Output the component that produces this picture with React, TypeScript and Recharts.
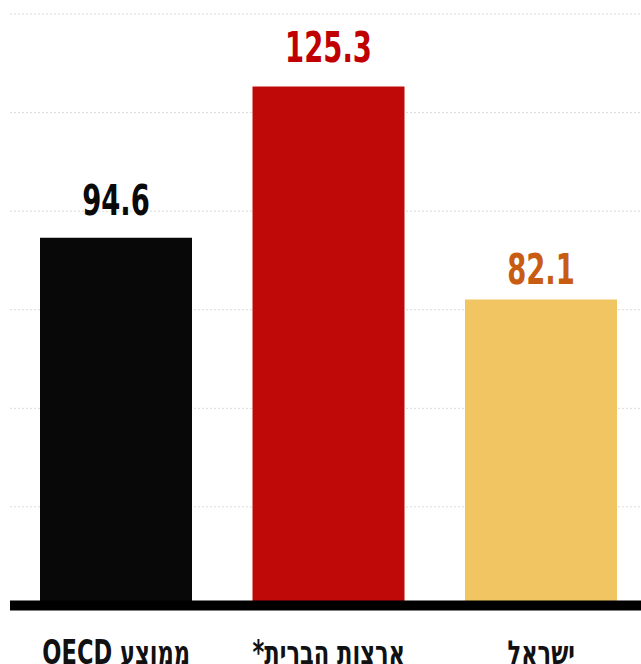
import React from "react";
import { BarChart, Bar, XAxis, YAxis, CartesianGrid, Cell, LabelList } from "recharts";

const categories = ["ממוצע OECD", "ארצות הברית*", "ישראל"];
const values = [94.6, 125.3, 82.1];
const yTicks = [20, 40, 60, 80, 100, 120, 140];

const barColors = ["#080808", "#bf0808", "#f2c563"];
const labelColors = ["#0a0a0a", "#c00000", "#c85c12"];
const labelGaps = [23, 24, 15];

const data = categories.map((name, i) => ({ name, value: values[i] }));

const FONT = "'DejaVu Sans Condensed', 'DejaVu Sans', sans-serif";

const ValueLabel = (props: any) => {
  const { x, y, width, value, index } = props;
  const cx = x + width / 2;
  const by = y - labelGaps[index];
  return (
    <text
      x={0}
      y={0}
      transform={`translate(${cx}, ${by}) scale(0.71, 1)`}
      textAnchor="middle"
      fill={labelColors[index]}
      fontFamily={FONT}
      fontWeight="bold"
      fontSize={43}
    >
      {value}
    </text>
  );
};

const Tick = (props: any) => {
  const { x, payload } = props;
  return (
    <text
      x={0}
      y={0}
      transform={`translate(${x}, 664) scale(0.76, 1)`}
      textAnchor="middle"
      direction="rtl"
      style={{ direction: "rtl", unicodeBidi: "embed" } as any}
      fill="#111"
      fontFamily={FONT}
      fontWeight="bold"
      fontSize={33}
    >
      {payload.value}
    </text>
  );
};

export default function App() {
  return (
    <div style={{ position: "absolute", left: 0, top: 0, width: 641, height: 664, overflow: "hidden", background: "#fff" }}>
      <BarChart
        width={660}
        height={700}
        data={data}
        margin={{ top: 14, right: 12.5, left: 10, bottom: 34.5 }}
        barCategoryGap={0}
      >
        <CartesianGrid vertical={false} stroke="#d9d9d9" strokeDasharray="2 2" />
        <YAxis hide domain={[20, 140]} ticks={yTicks} allowDataOverflow />
        <XAxis
          dataKey="name"
          height={60}
          axisLine={{ stroke: "#000", strokeWidth: 10 }}
          tickLine={false}
          tick={<Tick />}
          interval={0}
        />
        <Bar dataKey="value" barSize={152} isAnimationActive={false}>
          {data.map((d, i) => (
            <Cell key={d.name} fill={barColors[i]} />
          ))}
          <LabelList dataKey="value" content={<ValueLabel />} />
        </Bar>
      </BarChart>
    </div>
  );
}
